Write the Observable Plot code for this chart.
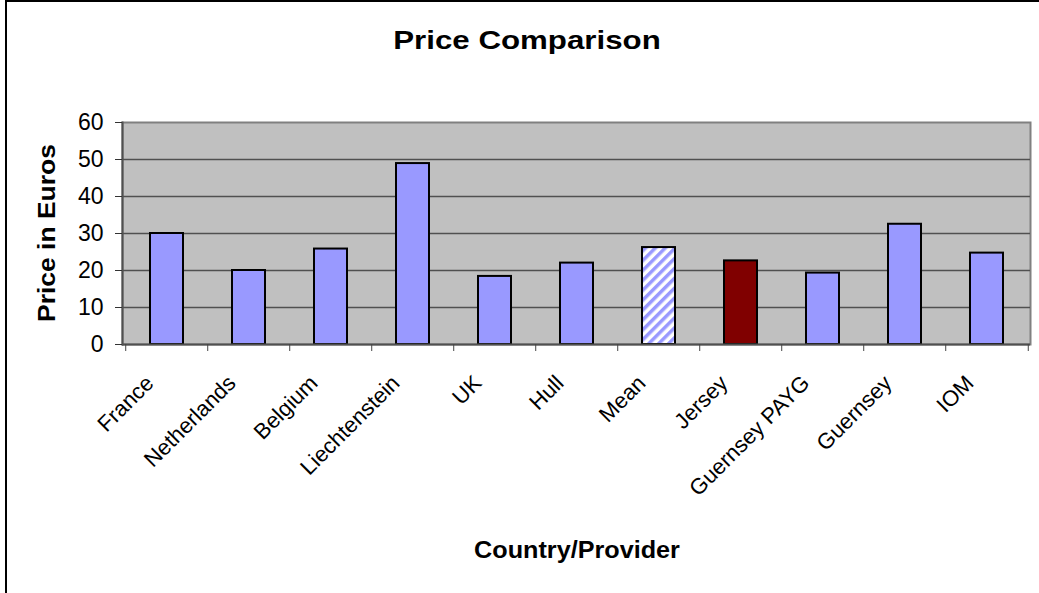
<!DOCTYPE html>
<html>
<head>
<meta charset="utf-8">
<script src="https://cdn.jsdelivr.net/npm/d3@7"></script>
<script src="https://cdn.jsdelivr.net/npm/@observablehq/plot@0.6"></script>
<style>
  html, body { margin: 0; padding: 0; overflow: hidden; background: #fff; }
  #wrap { position: relative; width: 1039px; height: 593px; overflow: hidden; background: #fff;
          font-family: "Liberation Sans", Arial, sans-serif; color: #000; }
  #border { position: absolute; left: 5px; top: 0px; width: 1100px; height: 700px; border: 2px solid #000; }
  #chart { position: absolute; left: 0; top: 0; }
  .lbl { position: absolute; font-weight: bold; white-space: nowrap; line-height: 1; }
  #title { left: 527px; top: 28px; font-size: 25px; transform: translateX(-50%) scaleX(1.25); }
  #xlabel { left: 577px; top: 537.7px; font-size: 24px; transform: translateX(-50%) scaleX(1.05); }
  #ylabel { left: 46.5px; top: 232.5px; font-size: 23px; transform: translate(-50%, -50%) rotate(-90deg) scaleX(1.15); }
</style>
</head>
<body>
<div id="wrap">
  <div id="border"></div>
  <div id="chart"></div>
  <div id="title" class="lbl">Price Comparison</div>
  <div id="xlabel" class="lbl">Country/Provider</div>
  <div id="ylabel" class="lbl">Price in Euros</div>
</div>
<script>
const categories = ["France", "Netherlands", "Belgium", "Liechtenstein", "UK", "Hull", "Mean", "Jersey", "Guernsey PAYG", "Guernsey", "IOM"];
const prices = [30, 20, 25.8, 48.9, 18.4, 22, 26.2, 22.6, 19.3, 32.5, 24.7];
const yTicks = [0, 10, 20, 30, 40, 50, 60];
const gridTicks = [10, 20, 30, 40, 50];

const data = categories.map((name, i) => ({name, value: prices[i]}));

const W = 1039, H = 593;
const mL = 122, mR = 9, mT = 122, mB = 249;
const step = (W - mL - mR) / categories.length;

const plot = Plot.plot({
  width: W,
  height: H,
  marginLeft: mL,
  marginRight: mR,
  marginTop: mT,
  marginBottom: mB,
  style: {fontFamily: "Liberation Sans, Arial, sans-serif", fontSize: "22px", background: "transparent", color: "#000"},
  x: {domain: categories, paddingInner: 0.6, paddingOuter: 0.3, axis: null},
  y: {domain: [0, 60], axis: null},
  marks: [
    Plot.frame({fill: "#c0c0c0", stroke: "#808080", strokeWidth: 2}),
    Plot.gridY({ticks: gridTicks, stroke: "#505050", strokeOpacity: 1, strokeWidth: 1.5}),
    Plot.barY(data, {filter: d => d.name !== "Mean" && d.name !== "Jersey", x: "name", y: "value", fill: "#9999ff", stroke: "#000", strokeWidth: 2}),
    Plot.barY(data, {filter: d => d.name === "Mean", x: "name", y: "value", fill: "url(#hatch)", stroke: "#000", strokeWidth: 2}),
    Plot.barY(data, {filter: d => d.name === "Jersey", x: "name", y: "value", fill: "#800000", stroke: "#000", strokeWidth: 2}),
    Plot.ruleY([0], {stroke: "#505050", strokeWidth: 2}),
    Plot.frame({anchor: "left", stroke: "#505050", strokeWidth: 2}),
    Plot.axisY({ticks: yTicks, tickSize: 7, tickPadding: 12, fontSize: 23, label: null, stroke: "#333"}),
    Plot.axisX({ticks: categories, tickSize: 7, tickFormat: () => "", dx: -step / 2, label: null, stroke: "#444"}),
    Plot.axisX({ticks: [categories[categories.length - 1]], tickSize: 7, tickFormat: () => "", dx: step / 2, label: null, stroke: "#444"}),
    Plot.axisX({ticks: categories, tickSize: 0, tickRotate: -45, tickPadding: 35, dx: -17, fontSize: 22, label: null})
  ]
});

// hatch pattern for the "Mean" bar
const ns = "http://www.w3.org/2000/svg";
const defs = document.createElementNS(ns, "defs");
const pat = document.createElementNS(ns, "pattern");
pat.setAttribute("id", "hatch");
pat.setAttribute("patternUnits", "userSpaceOnUse");
pat.setAttribute("width", "7");
pat.setAttribute("height", "7");
pat.setAttribute("patternTransform", "rotate(45)");
const r1 = document.createElementNS(ns, "rect");
r1.setAttribute("width", "7"); r1.setAttribute("height", "7"); r1.setAttribute("fill", "#ffffff");
const r2 = document.createElementNS(ns, "rect");
r2.setAttribute("width", "3.5"); r2.setAttribute("height", "7"); r2.setAttribute("fill", "#9999ff");
pat.appendChild(r1); pat.appendChild(r2);
defs.appendChild(pat);
plot.insertBefore(defs, plot.firstChild);

document.getElementById("chart").appendChild(plot);
</script>
</body>
</html>
